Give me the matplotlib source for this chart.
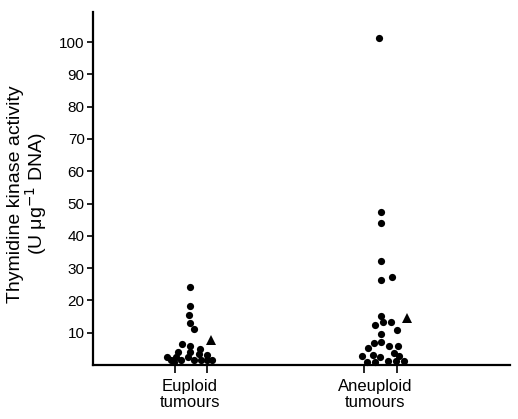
import matplotlib.pyplot as plt
import numpy as np

plt.rcParams["font.family"] = ["Liberation Sans", "DejaVu Sans"]

groups = ["Euploid\ntumours", "Aneuploid\ntumours"]

# Euploid: values (U/ug DNA) and horizontal scatter offsets (fraction of group spacing)
euploid_vals = [24.2, 18.3, 15.5, 12.9, 11.2, 6.4, 5.8, 5.0, 4.1, 4.1, 3.3, 3.1,
                2.6, 2.6, 2.6, 1.5, 1.5, 1.5, 1.5, 1.5, 1.5, 1.0]
euploid_dx = [0.0, 0.0, -0.005, 0.0, 0.02, -0.04, 0.0, 0.05, -0.06, 0.0, 0.045, 0.09,
              -0.12, -0.075, -0.01, -0.10, -0.045, 0.02, 0.055, 0.09, 0.115, -0.085]
euploid_tri = (7.6, 0.11)

aneuploid_vals = [101.1, 47.3, 44.1, 32.3, 27.1, 26.3, 15.3, 13.4, 13.2, 12.4, 10.8,
                  9.5, 7.0, 6.7, 6.0, 6.0, 5.4, 3.6, 3.1, 2.9, 2.9, 2.4,
                  1.3, 1.3, 1.2, 1.0, 1.0]
aneuploid_dx = [-0.02, -0.01, -0.01, -0.01, 0.045, -0.01, -0.01, 0.0, 0.04, -0.04, 0.07,
                -0.01, -0.01, -0.045, 0.03, 0.075, -0.08, 0.055, -0.05, -0.11, 0.085, -0.015,
                0.025, 0.065, 0.11, -0.085, -0.04]
aneuploid_tri = (14.4, 0.125)

yticks = [10, 20, 30, 40, 50, 60, 70, 80, 90, 100]

fig = plt.figure(figsize=(5.18, 4.19), dpi=100)
ax = fig.add_axes([93 / 518, 54 / 419, 417 / 518, 353 / 419])

for pos, vals, dx, tri in [(1, euploid_vals, euploid_dx, euploid_tri),
                           (2, aneuploid_vals, aneuploid_dx, aneuploid_tri)]:
    ax.plot(pos + np.array(dx), vals, "o", color="black", ms=5.2, mew=0, clip_on=False)
    ax.plot(pos + tri[1], tri[0], "^", color="black", ms=6.5, mew=0, clip_on=False)

ax.set_xlim(0.497, 2.658)
ax.set_ylim(0, 109.3)

ax.spines["top"].set_visible(False)
ax.spines["right"].set_visible(False)
ax.spines["left"].set_linewidth(1.6)
ax.spines["bottom"].set_linewidth(1.6)

ax.set_yticks(yticks)
ax.tick_params(axis="y", length=4.5, width=1.2, labelsize=11, pad=1.5)

ax.set_xticks([1.0, 1.96])
ax.set_xticklabels(groups, fontsize=12, linespacing=1.1)
ax.tick_params(axis="x", which="major", length=0, pad=10)
ax.set_xticks([0.92, 1.09, 1.9, 2.07], minor=True)
ax.tick_params(axis="x", which="minor", length=5.5, width=1.2)

fig.text(28 / 518, 1 - 194 / 419, "Thymidine kinase activity\n(U μg$^{-1}$ DNA)",
         rotation=90, ha="center", va="center", fontsize=14, linespacing=0.95)

fig.savefig("out.png", dpi=100)
